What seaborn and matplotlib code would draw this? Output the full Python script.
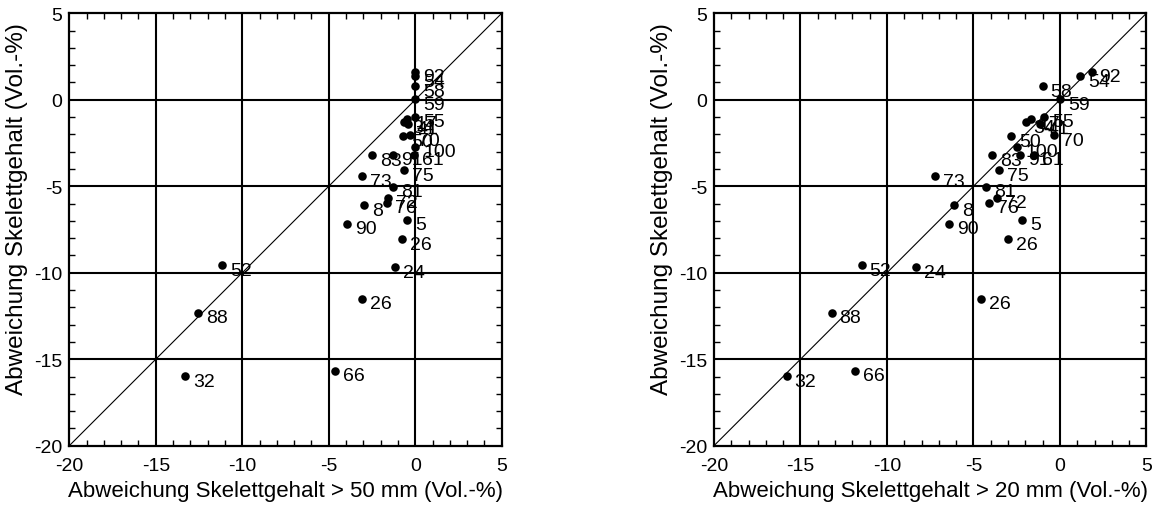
import matplotlib
matplotlib.use("Agg")
import matplotlib.pyplot as plt
from matplotlib.ticker import MultipleLocator
import pandas as pd
import seaborn as sns

# Plot numbers and deviations of coarse-fragment content (Vol.-%)
plot_ids = ["92", "54", "58", "59", "55", "17", "34", "41", "50", "70", "100",
            "83", "91", "61", "75", "73", "81", "72", "76", "8", "5", "90",
            "26", "24", "52", "26", "88", "66", "32"]
dev_gt50 = [0.0, 0.0, 0.0, 0.0, 0.0, -0.45, -0.65, -0.4, -0.72, -0.31, 0.0,
            -2.48, -1.28, -0.05, -0.67, -3.1, -1.28, -1.55, -1.66, -2.94, -0.48, -3.93,
            -0.79, -1.18, -11.18, -3.1, -12.55, -4.64, -13.31]
dev_gt20 = [1.83, 1.16, -1.0, 0.0, -0.93, -1.7, -1.98, -1.17, -2.8, -0.35, -2.47,
            -3.91, -2.31, -1.5, -3.5, -7.24, -4.26, -3.64, -4.1, -6.11, -2.19, -6.4,
            -3.02, -8.34, -11.46, -4.59, -13.2, -11.85, -15.8]
dev_total = [1.62, 1.35, 0.78, 0.02, -0.97, -1.1, -1.31, -1.4, -2.12, -2.06, -2.72,
             -3.22, -3.18, -3.18, -4.07, -4.42, -5.02, -5.65, -5.95, -6.1, -6.93, -7.16,
             -8.07, -9.67, -9.58, -11.5, -12.3, -15.66, -15.98]

x_labels = ["Abweichung Skelettgehalt > 50 mm (Vol.-%)",
            "Abweichung Skelettgehalt > 20 mm (Vol.-%)"]
y_label = "Abweichung Skelettgehalt (Vol.-%)"
ticks = [-20, -15, -10, -5, 0, 5]

df = pd.DataFrame({"id": plot_ids, "x50": dev_gt50, "x20": dev_gt20, "y": dev_total})

sns.set_style("white")
plt.rcParams["font.family"] = ["Liberation Sans", "DejaVu Sans"]
plt.rcParams["text.color"] = "black"
plt.rcParams["axes.labelcolor"] = "black"

W, H = 1156, 506
fig = plt.figure(figsize=(W / 100, H / 100), dpi=100)

side = 432.4
axes_left = [69.3, 714.0]
bottom_px = 446.7

for col, left_px, xlab in zip(["x50", "x20"], axes_left, x_labels):
    ax = fig.add_axes([left_px / W, (H - bottom_px) / H, side / W, side / H])
    ax.set_xlim(-20, 5)
    ax.set_ylim(-20, 5)

    # grid at every 5 units
    for v in ticks[1:-1]:
        ax.axvline(v, color="black", lw=1.5, zorder=1)
        ax.axhline(v, color="black", lw=1.5, zorder=1)
    # 1:1 line
    ax.plot([-20, 5], [-20, 5], color="black", lw=0.8, zorder=1)

    sns.scatterplot(data=df, x=col, y="y", ax=ax, color="black", s=38,
                    linewidth=0, legend=False, zorder=3)
    for _, r in df.iterrows():
        ax.annotate(r["id"], (r[col], r["y"]), xytext=(8, -5),
                    textcoords="offset pixels", ha="left", va="center",
                    fontsize=14, color="black", zorder=4)

    ax.set_xticks(ticks)
    ax.set_yticks(ticks)
    ax.set_xticklabels([str(t) for t in ticks])
    ax.set_yticklabels([str(t) for t in ticks])
    ax.xaxis.set_minor_locator(MultipleLocator(1))
    ax.yaxis.set_minor_locator(MultipleLocator(1))
    ax.tick_params(which="major", length=0, labelsize=14, colors="black",
                   labelcolor="black")
    ax.tick_params(axis="x", which="major", pad=8)
    ax.tick_params(axis="y", which="major", pad=5)
    ax.tick_params(which="minor", direction="in", length=4.5, width=1.0,
                   top=True, right=True, bottom=True, left=True, color="black")
    for s in ax.spines.values():
        s.set_visible(True)
        s.set_color("black")
        s.set_linewidth(1.6)

    ax.set_xlabel(xlab, fontsize=16, va="center", color="black")
    ax.xaxis.set_label_coords(0.5, -0.103)
    ax.set_ylabel(y_label, fontsize=17.5, va="center", color="black")
    ax.yaxis.set_label_coords(-0.12, 0.55)

fig.savefig("out.png", dpi=100, facecolor="white")
